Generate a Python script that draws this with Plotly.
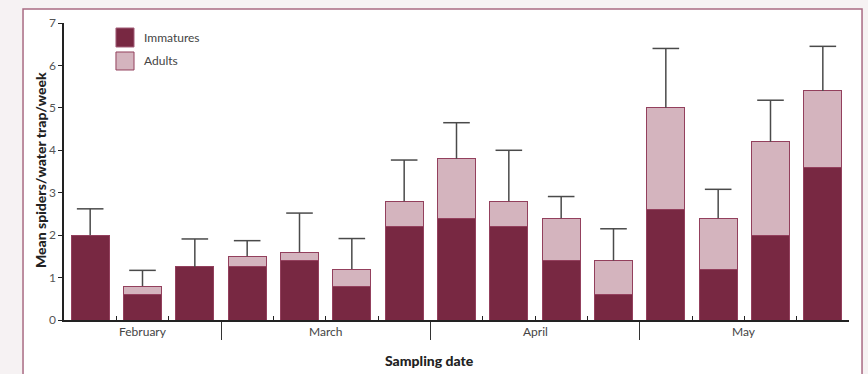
import plotly.graph_objects as go

# Mean spiders caught per water trap per week, 15 sampling dates (Feb-May)
months = ["February", "March", "April", "May"]
dates_per_month = [3, 4, 4, 4]
immatures = [2.0, 0.6, 1.25, 1.25, 1.4, 0.8, 2.2, 2.4, 2.2, 1.4, 0.6, 2.6, 1.2, 2.0, 3.6]
adults = [0.0, 0.2, 0.0, 0.25, 0.2, 0.4, 0.6, 1.4, 0.6, 1.0, 0.8, 2.4, 1.2, 2.2, 1.8]
std_err = [0.62, 0.37, 0.66, 0.37, 0.92, 0.72, 0.97, 0.85, 1.2, 0.51, 0.75, 1.4, 0.68, 0.98, 1.05]
series_names = ["Immatures", "Adults"]
y_ticks = [0, 1, 2, 3, 4, 5, 6, 7]

DARK = "#782842"
LIGHT = "#d4b4be"
EDGE = "#93405d"
FRAME = "#a96b83"
ERR = "#4a4a4a"
FONT = "Lato, 'Open Sans', sans-serif"

n = len(immatures)
x = list(range(n))
totals = [a + b for a, b in zip(immatures, adults)]
err_tops = [t + e for t, e in zip(totals, std_err)]

fig = go.Figure()
fig.add_trace(go.Bar(
    x=x, y=immatures, name=series_names[0],
    marker=dict(color=DARK, line=dict(color=EDGE, width=1)),
    showlegend=False,
))
fig.add_trace(go.Bar(
    x=x, y=adults, name=series_names[1],
    marker=dict(color=LIGHT, line=dict(color=EDGE, width=1)),
    showlegend=False,
))

# upward-only error bars: stem from the bar top plus a cap at the end
stem_x, stem_y = [], []
for i, (t, top) in enumerate(zip(totals, err_tops)):
    stem_x += [i, i, None]
    stem_y += [t, top, None]
fig.add_trace(go.Scatter(x=stem_x, y=stem_y, mode="lines",
                         line=dict(color=ERR, width=1.5),
                         hoverinfo="skip", showlegend=False))
fig.add_trace(go.Scatter(x=x, y=err_tops, mode="markers",
                         marker=dict(symbol="line-ew", size=19,
                                     line=dict(color=ERR, width=1.5)),
                         hoverinfo="skip", showlegend=False))

# date boundaries (small ticks) and month boundaries (long ticks)
month_breaks, month_centres = [], []
start = 0
for k in dates_per_month:
    month_centres.append(start + (k - 1) / 2)
    start += k
    month_breaks.append(start - 0.5)
month_breaks = month_breaks[:-1]
boundaries = [i + 0.5 for i in range(n) if (i + 0.5) not in month_breaks]

fig.update_layout(
    width=868, height=374,
    margin=dict(l=64, r=19, t=23, b=54),
    paper_bgcolor="#f6f2f3",
    plot_bgcolor="rgba(0,0,0,0)",
    barmode="stack",
    bargap=0.27,
    font=dict(family=FONT, color="#444444"),
    xaxis=dict(
        range=[-0.5, n - 0.5],
        tickmode="array", tickvals=boundaries, ticks="inside", ticklen=4,
        tickcolor="#222222", tickwidth=1,
        showticklabels=False, showgrid=False, zeroline=False,
        showline=True, linecolor="#222222", linewidth=1.5,
        minor=dict(tickmode="array", tickvals=month_breaks, ticks="outside",
                   ticklen=18, tickcolor="#333333", tickwidth=1),
    ),
    yaxis=dict(
        range=[0, 7], tickmode="array", tickvals=y_ticks,
        ticks="outside", ticklen=4, tickcolor="#222222", tickwidth=1,
        tickfont=dict(size=12, color="#555555"),
        showgrid=False, zeroline=False,
        showline=True, linecolor="#222222", linewidth=1.5,
    ),
)

# white panel with mauve frame behind the chart
fig.add_shape(type="rect", xref="paper", yref="paper",
              x0=-0.0522, x1=1.0166, y0=-0.25, y1=1.0471,
              fillcolor="white", line=dict(color=FRAME, width=1.5), layer="below")

# month labels
for name, c in zip(months, month_centres):
    fig.add_annotation(x=c, y=-0.0404, xref="x", yref="paper", text=name,
                       showarrow=False, xanchor="center", yanchor="middle",
                       font=dict(size=12, color="#444444"))

# axis titles
title_font = dict(size=14, color="#222222", weight=900)
fig.add_annotation(x=0.465, y=-0.1347, xref="paper", yref="paper",
                   text="Sampling date", showarrow=False,
                   xanchor="center", yanchor="middle", font=title_font)
fig.add_annotation(x=-0.0306, y=0.505, xref="paper", yref="paper",
                   text="Mean spiders/water trap/week", textangle=-90,
                   showarrow=False, xanchor="center", yanchor="middle",
                   font=title_font)

# legend
legend_rows = [(series_names[0], DARK, "#a4607a", 0.9832, 0.9192),
               (series_names[1], LIGHT, EDGE, 0.9024, 0.8418)]
for label, fill, edge, top, bottom in legend_rows:
    fig.add_shape(type="rect", xref="paper", yref="paper",
                  x0=0.0662, x1=0.0892, y0=bottom, y1=top,
                  fillcolor=fill, line=dict(color=edge, width=1))
    fig.add_annotation(x=0.0994, y=(top + bottom) / 2, xref="paper", yref="paper",
                       text=label, showarrow=False,
                       xanchor="left", yanchor="middle",
                       font=dict(size=12, color="#444444"))

fig.write_html("out.html")
